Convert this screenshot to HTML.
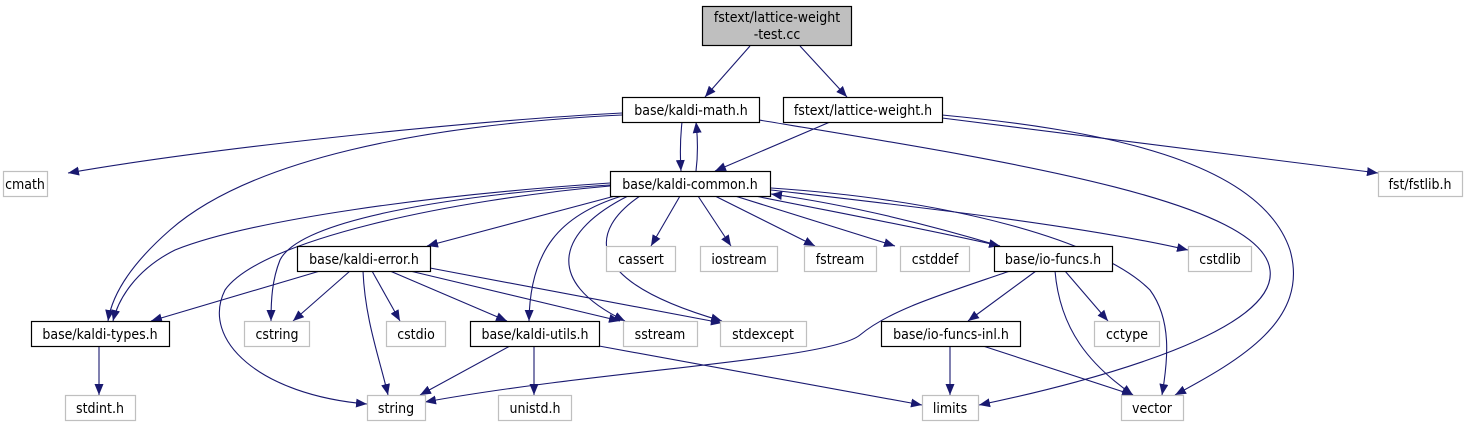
<!DOCTYPE html>
<html><head><meta charset="utf-8"><style>
html,body{margin:0;padding:0;background:#fff;}
svg{display:block}
text{font-family:"DejaVu Sans Condensed","DejaVu Sans","Liberation Sans",sans-serif;font-stretch:condensed;font-size:14px;fill:#000;text-anchor:middle}
.b{fill:#fff;stroke:#000;stroke-width:1.2}
.g{fill:#fff;stroke:#bfbfbf;stroke-width:1.2}
.e{fill:none;stroke:#191970;stroke-width:1.1;marker-end:url(#a)}
</style></head><body>
<svg width="1467" height="427" viewBox="0 0 1467 427">
<defs><marker id="a" markerWidth="11" markerHeight="9" refX="11" refY="4.5" orient="auto" markerUnits="userSpaceOnUse"><path d="M0,0 L11,4.5 L0,9 z" fill="#191970"/></marker></defs>

<path class="e" d="M750,46 L705,97"/>
<path class="e" d="M800,46 L847,97"/>
<path class="e" d="M622,113 C450,122 200,150 68,173"/>
<path class="e" d="M622,115 C420,125 250,160 170,230 C130,265 112,295 108,321"/>
<path class="e" d="M682,122 C680,140 680,155 681,171"/>
<path class="e" d="M696,171 C698,155 698,140 696,122"/>
<path class="e" d="M759,120 C1000,160 1262,200 1270,270 C1278,330 1100,380 979,405"/>
<path class="e" d="M830,122 L715,171"/>
<path class="e" d="M942,118 L1378,173"/>
<path class="e" d="M942,115 C1100,130 1260,160 1290,250 C1310,320 1240,360 1175,395"/>
<path class="e" d="M610,183 C430,195 250,220 175,250 C135,270 118,300 113,321"/>
<path class="e" d="M610,185 C450,195 300,220 280,260 C272,280 271,300 271,321"/>
<path class="e" d="M610,186 C450,200 260,240 225,290 C200,340 260,395 367,404"/>
<path class="e" d="M615,196 L427,246"/>
<path class="e" d="M622,196 C560,215 530,250 529,321"/>
<path class="e" d="M628,196 C560,230 540,280 625,321"/>
<path class="e" d="M640,196 C590,230 580,280 722,321"/>
<path class="e" d="M680,196 L651,246"/>
<path class="e" d="M698,196 L731,246"/>
<path class="e" d="M715,196 L815,246"/>
<path class="e" d="M735,196 L895,246"/>
<path class="e" d="M755,196 C850,215 930,230 1000,246"/>
<path class="e" d="M1000,246 C930,225 850,205 771,194"/>
<path class="e" d="M771,190 C900,205 1080,225 1188,250"/>
<path class="e" d="M771,188 C950,200 1100,240 1150,290 C1172,320 1168,360 1162,395"/>
<path class="e" d="M1036,271 L968,321"/>
<path class="e" d="M1065,271 L1108,321"/>
<path class="e" d="M1055,271 C1060,330 1090,365 1133,395"/>
<path class="e" d="M1010,271 C940,295 890,310 860,335 C830,360 600,370 425,402"/>
<path class="e" d="M950,346 L950,395"/>
<path class="e" d="M983,346 L1133,395"/>
<path class="e" d="M320,271 L151,321"/>
<path class="e" d="M350,271 L293,321"/>
<path class="e" d="M372,271 L400,321"/>
<path class="e" d="M363,271 C365,320 380,360 388,395"/>
<path class="e" d="M390,271 L507,321"/>
<path class="e" d="M410,271 L620,321"/>
<path class="e" d="M430,268 L722,323"/>
<path class="e" d="M99,346 L99,395"/>
<path class="e" d="M510,346 L420,395"/>
<path class="e" d="M534,346 L534,395"/>
<path class="e" d="M599,346 L922,405"/>

<rect x="702.5" y="6.5" width="149" height="39" fill="#bfbfbf" stroke="#000" stroke-width="1.2"/>
<text x="777" y="22">fstext/lattice-weight</text><text x="777" y="39">-test.cc</text>
<rect class="b" x="622.5" y="97.5" width="137" height="25"/><text x="691" y="115">base/kaldi-math.h</text>
<rect class="b" x="783.5" y="97.5" width="159" height="25"/><text x="863" y="115">fstext/lattice-weight.h</text>
<rect class="g" x="3.5" y="171.5" width="44" height="25"/><text x="25" y="189">cmath</text>
<rect class="b" x="610.5" y="171.5" width="160" height="25"/><text x="690" y="189">base/kaldi-common.h</text>
<rect class="g" x="1378.5" y="171.5" width="84" height="25"/><text x="1420" y="189">fst/fstlib.h</text>
<rect class="b" x="297.5" y="246.5" width="133" height="25"/><text x="364" y="264">base/kaldi-error.h</text>
<rect class="g" x="606.5" y="246.5" width="69" height="25"/><text x="641" y="264">cassert</text>
<rect class="g" x="700.5" y="246.5" width="77" height="25"/><text x="739" y="264">iostream</text>
<rect class="g" x="804.5" y="246.5" width="72" height="25"/><text x="840" y="264">fstream</text>
<rect class="g" x="900.5" y="246.5" width="69" height="25"/><text x="935" y="264">cstddef</text>
<rect class="b" x="994.5" y="246.5" width="118" height="25"/><text x="1053" y="264">base/io-funcs.h</text>
<rect class="g" x="1188.5" y="246.5" width="63" height="25"/><text x="1220" y="264">cstdlib</text>
<rect class="b" x="31.5" y="321.5" width="138" height="25"/><text x="100" y="339">base/kaldi-types.h</text>
<rect class="g" x="244.5" y="321.5" width="65" height="25"/><text x="277" y="339">cstring</text>
<rect class="g" x="386.5" y="321.5" width="59" height="25"/><text x="416" y="339">cstdio</text>
<rect class="b" x="470.5" y="321.5" width="129" height="25"/><text x="535" y="339">base/kaldi-utils.h</text>
<rect class="g" x="623.5" y="321.5" width="74" height="25"/><text x="660" y="339">sstream</text>
<rect class="g" x="720.5" y="321.5" width="86" height="25"/><text x="763" y="339">stdexcept</text>
<rect class="b" x="881.5" y="321.5" width="139" height="25"/><text x="951" y="339">base/io-funcs-inl.h</text>
<rect class="g" x="1094.5" y="321.5" width="65" height="25"/><text x="1127" y="339">cctype</text>
<rect class="g" x="65.5" y="395.5" width="70" height="25"/><text x="100" y="413">stdint.h</text>
<rect class="g" x="367.5" y="395.5" width="58" height="25"/><text x="396" y="413">string</text>
<rect class="g" x="498.5" y="395.5" width="73" height="25"/><text x="535" y="413">unistd.h</text>
<rect class="g" x="922.5" y="395.5" width="56" height="25"/><text x="950" y="413">limits</text>
<rect class="g" x="1121.5" y="395.5" width="62" height="25"/><text x="1152" y="413">vector</text>
</svg>
</body></html>
